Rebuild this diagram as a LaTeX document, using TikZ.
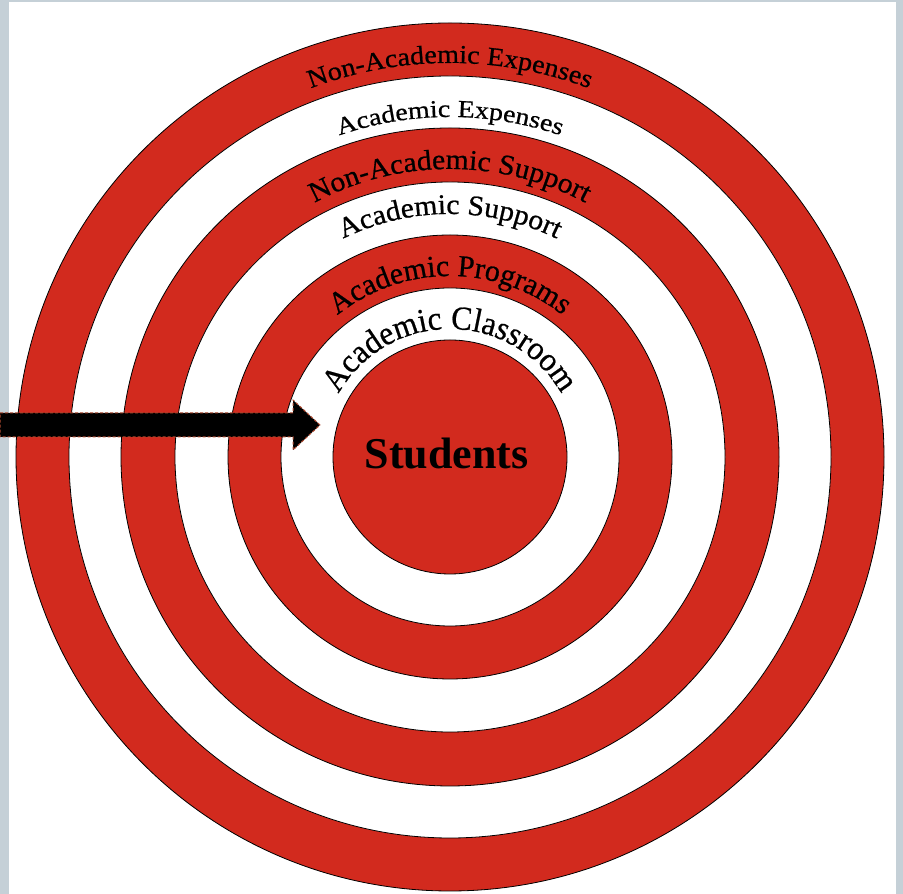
\documentclass[tikz,border=0pt]{standalone}
\usepackage{fontspec}
\setmainfont{Liberation Serif}
\newfontfamily\fA[FakeStretch=1.08,FakeBold=0.7]{Liberation Serif}
\newfontfamily\fB[FakeStretch=1.14,FakeBold=0.7]{Liberation Serif}
\newfontfamily\fC[FakeStretch=1.04,FakeBold=0.7]{Liberation Serif}
\newfontfamily\fD[FakeStretch=1.04,FakeBold=0.7]{Liberation Serif}
\newfontfamily\fE[FakeStretch=0.98,FakeBold=0.7]{Liberation Serif}
\newfontfamily\fF[FakeStretch=0.94,FakeBold=0.6]{Liberation Serif}
\usetikzlibrary{decorations.text}
\definecolor{ringred}{RGB}{210,42,30}
\definecolor{framegray}{RGB}{197,208,215}
\definecolor{dashred}{RGB}{176,74,48}
\tikzset{
  redring/.style={fill=ringred, draw=black, line width=0.8pt},
  whitering/.style={fill=white, draw=black, line width=0.8pt},
  arctext/.style={decorate, decoration={text along path, text align=center, text={#1}}},
}
\begin{document}
\begin{tikzpicture}[x=1pt,y=1pt]
\useasboundingbox (0,0) rectangle (903,894);
\fill[framegray] (0,0) rectangle (903,894);
\fill[white] (9,0) rectangle (896,892);
\coordinate (c) at (450,437);
\draw[redring] (c) circle[radius=434];
\draw[whitering] (c) circle[radius=381];
\draw[redring] (c) circle[radius=329];
\draw[whitering] (c) circle[radius=275];
\draw[redring] (c) circle[radius=222];
\draw[whitering] (c) circle[radius=169];
\draw[redring] (c) circle[radius=117];
\path[arctext={|\fA\fontsize{26}{30}\selectfont|Non-Academic Expenses}] (c) ++(170:394) arc[start angle=170, end angle=10, radius=394];
\path[arctext={|\fB\fontsize{24.5}{28}\selectfont|Academic Expenses}] (c) ++(170:340) arc[start angle=170, end angle=10, radius=340];
\path[arctext={|\fC\fontsize{28.5}{32}\selectfont|Non-Academic Support}] (c) ++(170:288) arc[start angle=170, end angle=10, radius=288];
\path[arctext={|\fD\fontsize{28.5}{32}\selectfont|Academic Support}] (c) ++(170:243) arc[start angle=170, end angle=10, radius=243];
\path[arctext={|\fE\fontsize{30.5}{36}\selectfont|Academic Programs}] (c) ++(175:181) arc[start angle=175, end angle=5, radius=181];
\path[arctext={|\fF\fontsize{33.5}{40}\selectfont|Academic Classroom}] (c) ++(178:128) arc[start angle=178, end angle=2, radius=128];
\node[anchor=base, font=\bfseries\fontsize{44}{52}\selectfont, inner sep=0pt] (students) at (446.5,425) {Students};
\draw[fill=black, draw=dashred, line width=1pt, dash pattern=on 3pt off 2pt]
  (0,481) -- (293,481) -- (293,494) -- (320,469) -- (293,444) -- (293,457) -- (0,457) -- cycle;
\end{tikzpicture}
\end{document}
